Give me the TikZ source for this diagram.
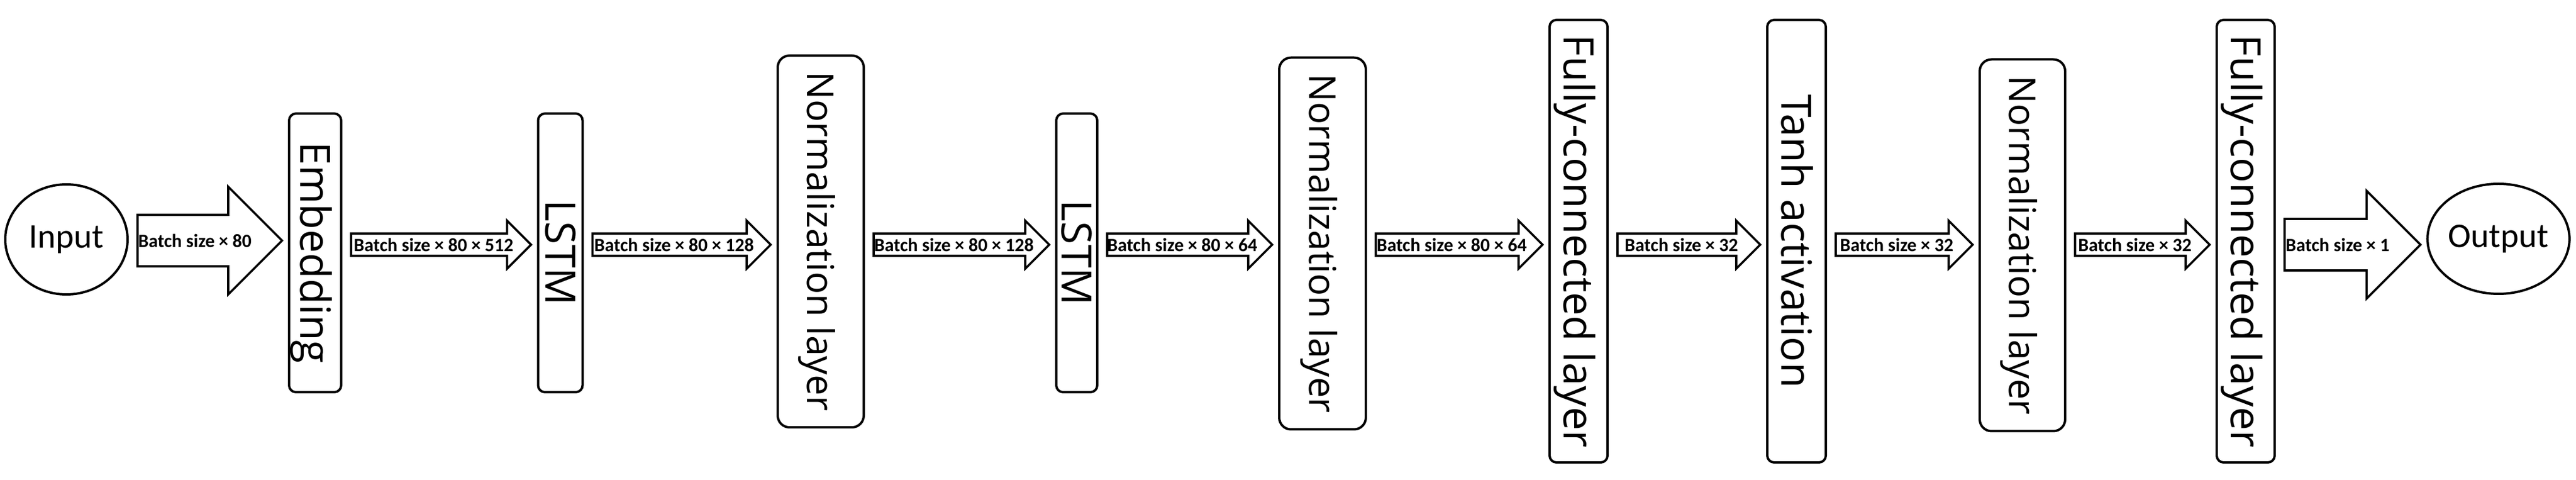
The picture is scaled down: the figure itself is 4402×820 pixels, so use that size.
\documentclass[tikz,border=0pt]{standalone}
\usepackage{fontspec}
\setmainfont{Carlito}
\newfontfamily\layerfont{Open Sans}
\usetikzlibrary{calc,shapes.geometric}
\tikzset{
  layer/.style={draw, line width=1.2pt, rounded corners=3.5pt, inner sep=0pt, font=\layerfont\fontsize{21.4}{24}\selectfont},
  normlayer/.style={layer, rounded corners=6pt, font=\layerfont\fontsize{19}{22}\selectfont},
  io/.style={draw, ellipse, line width=1.2pt, inner sep=0pt, font=\fontsize{17.7}{20}\selectfont},
  shapeline/.style={line width=1.1pt, line join=miter},
  dimlabel/.style={inner sep=0pt, font=\bfseries\fontsize{9.6}{11}\selectfont}
}
\newcommand{\vtext}[1]{\rotatebox{-90}{\raisebox{0pt}[\fontcharht\font`E][0pt]{#1}}}
\newcommand{\dimarrow}[7]{%
  \draw[shapeline] let \p1=(#1.east), \p2=(#2.west), \p3=(#5) in
    (\x1+4.5pt,\y3+#6) -- (\x2-3pt-#7,\y3+#6) -- (\x2-3pt-#7,\y3+#7) -- (\x2-3pt,\y3)
    -- (\x2-3pt-#7,\y3-#7) -- (\x2-3pt-#7,\y3-#6) -- (\x1+4.5pt,\y3-#6) -- cycle
    ({(\x1+\x2)/2-#7/4},\y3) node[dimlabel] (#3) {#4};}

\begin{document}
\begin{tikzpicture}[x=0.3pt,y=-0.3pt]
        \useasboundingbox (0,0) rectangle (4402,820);
        \coordinate (mid) at (0,418);
        \coordinate (bigmid) at (0,411);

        \node [io, minimum width=62.7pt, minimum height=56.4pt] (inp) at (113.5,409) {Input};
        \node [layer, minimum width=26.7pt, minimum height=142.8pt] (emb) at (538.5,432) {\vtext{Embedding}};
        \node [layer, minimum width=22.8pt, minimum height=142.8pt] (lstma) at (957.5,432) {\vtext{LSTM}};
        \node [normlayer, minimum width=44.1pt, minimum height=190.5pt] (norma) at (1402.5,412.5) {\vtext{Normalization layer}};
        \node [layer, minimum width=21pt, minimum height=142.8pt] (lstmb) at (1840,432) {\vtext{LSTM}};
        \node [normlayer, minimum width=44.4pt, minimum height=190.5pt] (normb) at (2260,416) {\vtext{Normalization layer}};
        \node [layer, minimum width=29.7pt, minimum height=226.8pt] (fca) at (2697.5,412) {\vtext{Fully-connected layer}};
        \node [layer, minimum width=30pt, minimum height=226.8pt] (tanh) at (3070,412) {\vtext{Tanh activation}};
        \node [normlayer, minimum width=43.8pt, minimum height=190.5pt] (normc) at (3456,419) {\vtext{Normalization layer}};
        \node [layer, minimum width=29.7pt, minimum height=226.8pt] (fcb) at (3837.5,412) {\vtext{Fully-connected layer}};
        \node [io, minimum width=62.1pt, minimum height=56.4pt] (outp) at (4269.5,408) {Output};

        \dimarrow{inp}{emb}{d1}{Batch size × 80}{bigmid}{13.2pt}{27.6pt}
        \dimarrow{emb}{lstma}{d2}{Batch size × 80 × 512}{mid}{5.7pt}{12.3pt}
        \dimarrow{lstma}{norma}{d3}{Batch size × 80 × 128}{mid}{5.7pt}{12.3pt}
        \dimarrow{norma}{lstmb}{d4}{Batch size × 80 × 128}{mid}{5.7pt}{12.3pt}
        \dimarrow{lstmb}{normb}{d5}{Batch size × 80 × 64}{mid}{5.7pt}{12.3pt}
        \dimarrow{normb}{fca}{d6}{Batch size × 80 × 64}{mid}{5.7pt}{12.3pt}
        \dimarrow{fca}{tanh}{d7}{Batch size × 32}{mid}{5.7pt}{12.3pt}
        \dimarrow{tanh}{normc}{d8}{Batch size × 32}{mid}{5.7pt}{12.3pt}
        \dimarrow{normc}{fcb}{d9}{Batch size × 32}{mid}{5.7pt}{12.3pt}
        \dimarrow{fcb}{outp}{d10}{Batch size × 1}{mid}{13.2pt}{27.6pt}
\end{tikzpicture}
\end{document}
